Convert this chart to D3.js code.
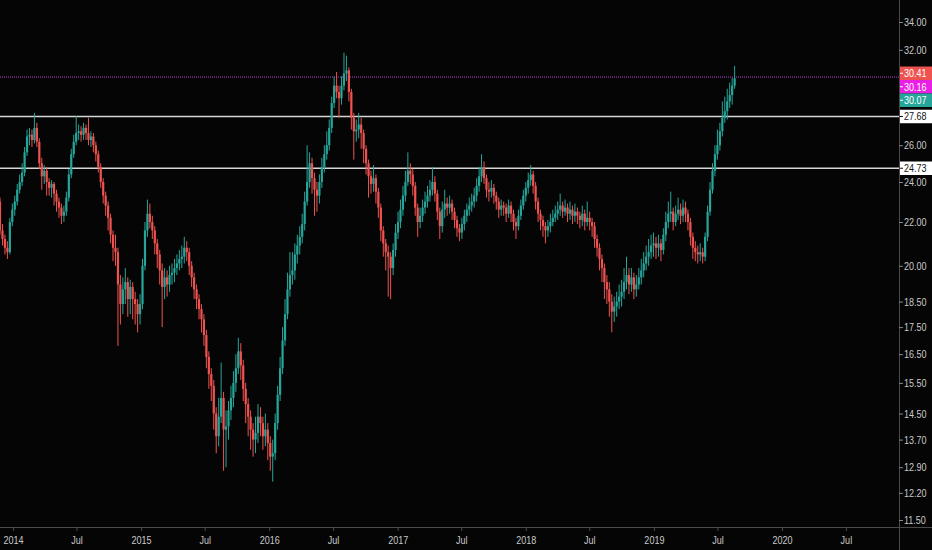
<!DOCTYPE html>
<html>
<head>
<meta charset="utf-8">
<script src="https://cdn.jsdelivr.net/npm/d3@7"></script>
<style>
html, body { margin: 0; padding: 0; background: #050505; overflow: hidden; }
text { font-family: "Liberation Sans", "DejaVu Sans", sans-serif; font-size: 11px; }
</style>
</head>
<body>
<div id="chart"></div>
<script>
// weekly candles, first week starts Monday 2013-11-25; open = previous close
const firstWeek = '2013-11-25';
const firstOpen = 23.0;
const closes = [
  21.6, 21.2, 20.8, 20.6, 22.0, 22.6, 23.0, 23.6, 24.0, 24.5,
  25.6, 26.5, 26.6, 26.3, 27.0, 26.2, 25.0, 24.3, 24.6, 24.0,
  23.7, 23.9, 23.4, 23.0, 22.7, 22.3, 22.5, 23.2, 24.4, 25.5,
  26.2, 26.7, 26.8, 26.6, 27.0, 26.7, 26.3, 26.5, 26.0, 25.5,
  24.8, 24.0, 23.3, 22.8, 22.2, 21.4, 20.8, 20.6, 19.2, 18.4,
  19.0, 19.3, 18.6, 19.1, 18.6, 18.4, 18.0, 18.4, 20.0, 21.6,
  22.4, 22.0, 21.6, 21.0, 20.5, 19.8, 19.1, 19.5, 19.2, 19.6,
  19.7, 19.9, 20.1, 20.3, 20.4, 20.8, 20.6, 20.0, 19.5, 19.0,
  18.6, 18.2, 17.8, 17.2, 16.4, 15.8, 15.4, 14.5, 13.8, 14.4,
  15.0, 14.0, 14.1, 14.6, 15.0, 15.5, 16.0, 16.6, 16.1, 15.3,
  14.8, 14.4, 14.0, 13.7, 13.9, 14.4, 14.2, 13.8, 14.0, 13.6,
  13.2, 13.3, 14.2, 15.1, 16.0, 17.0, 18.0, 19.0, 19.6, 19.8,
  20.5, 20.9, 21.3, 21.9, 23.0, 24.0, 25.0, 24.2, 23.6, 23.3,
  24.0, 24.8, 25.5, 26.0, 27.0, 28.5, 29.6, 29.2, 28.8, 29.6,
  30.4, 30.6, 29.2, 27.6, 26.8, 26.9, 27.2, 26.7, 25.8, 25.0,
  24.3, 23.9, 24.2, 23.5, 22.7, 21.6, 21.0, 20.6, 20.4, 19.9,
  20.7, 21.5, 22.0, 22.6, 23.3, 24.0, 24.6, 24.4, 23.8, 22.7,
  22.0, 22.3, 22.7, 23.0, 23.3, 23.6, 24.0, 23.4, 22.5, 21.8,
  22.6, 22.9, 22.7, 22.9, 22.5, 22.1, 21.7, 21.5, 21.9, 22.3,
  22.6, 22.8, 23.0, 23.3, 23.8, 24.3, 24.8, 24.2, 23.6, 23.5,
  23.7, 23.3, 23.0, 22.6, 22.8, 22.7, 22.4, 22.8, 22.4, 22.0,
  21.8, 22.3, 22.8, 23.3, 23.7, 24.1, 24.4, 23.8, 23.0, 22.4,
  22.1, 21.8, 21.6, 21.8, 22.0, 22.2, 22.4, 22.6, 22.8, 22.5,
  22.7, 22.4, 22.6, 22.3, 22.5, 22.3, 22.1, 22.4, 22.0, 22.2,
  22.0, 21.8, 21.2, 20.8, 20.3, 19.9, 19.3, 19.0, 18.5, 18.1,
  18.3, 18.5, 18.7, 18.9, 19.3, 19.6, 19.2, 19.5, 19.0, 19.2,
  19.5, 19.8, 20.1, 20.4, 20.6, 20.9, 21.0, 20.8, 21.0, 20.7,
  21.4, 22.0, 22.4, 22.5, 22.0, 22.4, 22.6, 22.3, 22.7, 22.4,
  22.0, 21.3, 20.8, 20.6, 20.5, 20.6, 20.4, 21.3, 22.5, 23.6,
  24.6, 25.5, 26.0, 26.8, 27.6, 28.0, 28.6, 29.0, 29.6, 30.07
];
const highs = [
  23.2, 21.9, 21.4, 21.1, 22.2, 22.9, 23.3, 23.9, 24.4, 25.0,
  25.9, 26.9, 27.0, 26.9, 27.9, 27.3, 26.4, 25.3, 24.9, 24.8,
  24.2, 24.1, 24.0, 23.6, 23.2, 22.9, 22.8, 23.5, 24.7, 25.8,
  26.6, 27.7, 27.2, 27.1, 27.3, 27.2, 27.6, 26.8, 26.7, 26.2,
  25.7, 25.0, 24.2, 23.5, 23.0, 22.4, 21.6, 21.4, 20.8, 19.6,
  19.5, 19.9, 19.5, 19.4, 19.3, 18.9, 18.6, 18.8, 20.3, 22.0,
  23.1, 22.9, 22.3, 21.8, 21.2, 20.7, 20.1, 19.9, 19.8, 20.0,
  20.1, 20.3, 20.5, 20.7, 20.9, 21.3, 21.1, 20.8, 20.2, 19.7,
  19.2, 18.8, 18.4, 18.0, 17.4, 16.6, 16.0, 15.6, 14.7, 15.0,
  16.2, 15.2, 14.6, 14.9, 15.4, 15.9, 16.5, 17.1, 16.9, 16.3,
  15.5, 15.0, 14.6, 14.2, 14.4, 14.8, 14.7, 14.4, 14.5, 14.2,
  13.8, 13.7, 14.5, 15.4, 16.4, 17.5, 18.6, 19.7, 20.6, 20.6,
  21.0, 21.4, 21.8, 22.4, 23.5, 26.0, 25.6, 25.3, 24.5, 24.0,
  24.4, 25.3, 26.0, 26.8, 27.5, 28.9, 30.2, 30.5, 29.6, 30.2,
  31.8, 31.6, 30.8, 29.4, 27.9, 27.5, 27.9, 27.6, 26.9, 26.0,
  25.2, 24.6, 24.9, 24.4, 23.7, 22.9, 21.8, 21.2, 20.9, 20.6,
  21.0, 21.9, 22.5, 23.1, 23.8, 24.6, 25.6, 25.0, 24.7, 24.0,
  22.9, 22.7, 23.1, 23.5, 23.8, 24.1, 24.8, 24.3, 23.6, 22.7,
  23.0, 23.6, 23.2, 23.3, 23.1, 22.7, 22.3, 21.9, 22.2, 22.6,
  22.9, 23.2, 23.4, 23.7, 24.2, 24.8, 25.5, 25.1, 24.4, 24.0,
  24.1, 23.9, 23.5, 23.2, 23.1, 23.0, 22.9, 23.1, 23.0, 22.6,
  22.2, 22.6, 23.1, 23.6, 24.0, 24.5, 24.9, 24.6, 24.0, 23.2,
  22.6, 22.3, 22.0, 22.1, 22.4, 22.6, 22.8, 23.0, 23.4, 23.0,
  23.1, 22.9, 23.0, 22.8, 22.9, 22.7, 22.5, 22.8, 22.6, 23.0,
  22.5, 22.2, 22.0, 21.4, 21.0, 20.5, 20.1, 19.6, 19.3, 18.8,
  18.7, 18.9, 19.2, 19.4, 19.9, 20.4, 19.9, 19.9, 19.7, 19.6,
  19.9, 20.3, 20.6, 20.9, 21.2, 21.4, 21.5, 21.3, 21.4, 21.2,
  21.7, 22.5, 23.0, 23.5, 22.7, 22.8, 23.2, 22.9, 23.1, 23.0,
  22.6, 22.2, 21.5, 21.1, 20.9, 21.0, 20.8, 21.5, 22.8, 24.0,
  25.0, 26.0, 26.9, 27.3, 28.6, 28.9, 29.4, 29.8, 30.1, 30.9
];
const lows = [
  21.4, 20.9, 20.5, 20.3, 20.5, 21.8, 22.3, 22.8, 23.4, 23.8,
  24.3, 25.4, 26.0, 25.9, 26.1, 25.9, 24.7, 23.6, 23.9, 23.3,
  23.3, 23.2, 22.8, 22.5, 22.2, 21.9, 22.0, 22.3, 23.0, 24.2,
  25.3, 26.0, 26.3, 26.2, 26.3, 26.3, 26.0, 25.9, 25.6, 25.1,
  24.5, 23.7, 22.9, 22.3, 21.6, 21.0, 20.2, 20.0, 16.8, 17.6,
  18.0, 18.4, 17.9, 18.0, 17.8, 17.6, 17.3, 17.6, 18.2, 19.8,
  21.3, 21.7, 21.2, 20.5, 19.9, 19.2, 17.5, 18.6, 18.7, 18.9,
  19.2, 19.3, 19.6, 19.8, 19.9, 20.1, 20.2, 19.6, 19.1, 18.6,
  18.2, 17.8, 17.3, 16.8, 16.0, 15.3, 14.9, 14.0, 13.3, 13.5,
  14.2, 12.8, 12.9, 13.7, 14.3, 14.7, 15.2, 15.8, 15.6, 14.9,
  14.2, 13.8, 13.4, 13.2, 13.3, 13.6, 13.8, 13.4, 13.5, 13.1,
  12.8, 12.5, 13.1, 14.0, 14.9, 15.8, 16.8, 17.8, 18.7, 19.2,
  19.4, 20.1, 20.5, 21.0, 21.6, 22.8, 23.7, 23.4, 22.3, 22.5,
  22.9, 23.7, 24.5, 25.2, 25.7, 26.7, 28.2, 28.8, 27.6, 28.4,
  29.3, 29.9, 28.6, 26.9, 25.2, 26.2, 26.4, 25.8, 25.0, 24.4,
  23.2, 23.4, 23.5, 22.9, 22.2, 21.1, 20.4, 19.8, 18.7, 18.6,
  19.6, 20.4, 21.2, 21.7, 22.3, 23.0, 23.8, 23.9, 23.3, 22.3,
  21.3, 21.7, 22.0, 22.4, 22.7, 23.0, 23.3, 23.0, 22.1, 21.2,
  21.5, 22.2, 22.3, 22.4, 22.1, 21.7, 21.3, 21.1, 21.2, 21.6,
  22.0, 22.3, 22.5, 22.7, 23.0, 23.5, 24.0, 23.9, 23.2, 23.0,
  23.2, 22.9, 22.6, 22.2, 22.3, 22.3, 22.0, 22.2, 22.0, 21.6,
  21.2, 21.6, 22.1, 22.6, 23.0, 23.4, 23.8, 23.4, 22.6, 22.0,
  21.6, 21.3, 21.0, 21.3, 21.5, 21.8, 22.0, 22.1, 22.3, 22.2,
  22.3, 22.0, 22.1, 21.9, 22.0, 21.9, 21.7, 21.8, 21.6, 21.8,
  21.6, 21.3, 20.8, 20.4, 19.8, 19.3, 18.6, 18.4, 17.9, 17.3,
  17.7, 17.9, 18.2, 18.3, 18.6, 19.0, 18.8, 18.9, 18.6, 18.7,
  19.0, 19.2, 19.5, 19.8, 20.0, 20.3, 20.4, 20.3, 20.4, 20.2,
  20.5, 21.1, 21.7, 22.0, 21.6, 21.8, 22.1, 21.9, 22.0, 22.0,
  21.6, 20.9, 20.3, 20.2, 20.1, 20.2, 20.1, 20.2, 21.1, 22.3,
  23.4, 24.3, 25.2, 25.7, 26.5, 27.3, 27.5, 28.2, 28.4, 29.4
];

const priceTicks = [11.5, 12.2, 12.9, 13.7, 14.5, 15.5, 16.5, 17.5, 18.5, 20, 22, 24, 26, 32, 34];
const levelLines = [27.68, 24.73];
const dottedLevel = 30.16;
const priceTags = [30.41, 30.16, 30.07, 27.68, 24.73];

const W = 932, H = 550;
const plotRight = 899, plotBottom = 527;
const upColor = '#26a69a', downColor = '#ef5350';
const tagFill = ['#ef5350', '#e91fe6', '#26a69a', '#ffffff', '#ffffff'];
const tagText = ['#ffffff', '#ffffff', '#ffffff', '#131313', '#131313'];
const narrow = 'scale(0.82,1)'; // the axis font is a condensed one

const start = d3.utcParse('%Y-%m-%d')(firstWeek);
const candles = closes.map((c, i) => ({
  date: d3.utcWeek.offset(start, i),
  open: i === 0 ? firstOpen : closes[i - 1],
  close: c,
  high: highs[i],
  low: lows[i]
}));

const svg = d3.select('#chart').append('svg')
  .attr('width', W).attr('height', H)
  .style('display', 'block');

svg.append('rect').attr('width', W).attr('height', H).attr('fill', '#050505');

// time scale: 2014-01-01 .. 2020-01-01 spans 13..782 px, extended to the plot edges
const xBase = d3.scaleUtc()
  .domain([new Date(Date.UTC(2014, 0, 1)), new Date(Date.UTC(2020, 0, 1))])
  .range([13, 782]);
const x = d3.scaleUtc()
  .domain([xBase.invert(0), xBase.invert(plotRight)])
  .range([0, plotRight]);

const y = d3.scaleLog().domain([11.5, 34]).range([520, 22]);

const plot = svg.append('g');
plot.append('clipPath').attr('id', 'clip')
  .append('rect').attr('width', plotRight).attr('height', plotBottom);
const marks = plot.append('g').attr('clip-path', 'url(#clip)');

// horizontal levels
marks.selectAll('line.level')
  .data(levelLines)
  .enter().append('line')
  .attr('class', 'level')
  .attr('x1', 0).attr('x2', plotRight)
  .attr('y1', d => y(d)).attr('y2', d => y(d))
  .attr('stroke', '#d6d6d6').attr('stroke-width', 1.5);

marks.append('line')
  .attr('x1', 0).attr('x2', plotRight)
  .attr('y1', y(dottedLevel)).attr('y2', y(dottedLevel))
  .attr('stroke', '#b53bd8').attr('stroke-width', 1)
  .attr('stroke-dasharray', '1,1');

// candles
const bodyW = 2.2;
const color = d => d.close >= d.open ? upColor : downColor;

marks.selectAll('line.wick')
  .data(candles)
  .enter().append('line')
  .attr('class', 'wick')
  .attr('x1', d => x(d.date)).attr('x2', d => x(d.date))
  .attr('y1', d => y(d.high)).attr('y2', d => y(d.low))
  .attr('stroke', color).attr('stroke-width', 1);

marks.selectAll('rect.body')
  .data(candles)
  .enter().append('rect')
  .attr('class', 'body')
  .attr('x', d => x(d.date) - bodyW / 2)
  .attr('width', bodyW)
  .attr('y', d => y(Math.max(d.open, d.close)))
  .attr('height', d => Math.max(1, Math.abs(y(d.open) - y(d.close))))
  .attr('fill', color);

// axes
const xAxis = svg.append('g')
  .attr('transform', `translate(0,${plotBottom})`)
  .call(d3.axisBottom(x)
    .ticks(d3.utcMonth.every(6))
    .tickSize(4)
    .tickPadding(5)
    .tickFormat(d => d.getUTCMonth() === 0 ? d3.utcFormat('%Y')(d) : 'Jul'));
xAxis.select('.domain').attr('stroke', '#4a4a4a').attr('d', `M0,0.5H${W}`);
xAxis.selectAll('.tick line').attr('stroke', '#4a4a4a');
xAxis.selectAll('.tick text').attr('fill', '#c9c9c9').attr('transform', narrow);

const yAxis = svg.append('g')
  .attr('transform', `translate(${plotRight},0)`)
  .call(d3.axisRight(y)
    .tickValues(priceTicks)
    .tickSize(4)
    .tickPadding(5)
    .tickFormat(d3.format('.2f')));
yAxis.select('.domain').attr('stroke', '#4a4a4a').attr('d', `M0.5,0V${H}`);
yAxis.selectAll('.tick line').attr('stroke', '#8a8a8a');
yAxis.selectAll('.tick text').attr('fill', '#c9c9c9')
  .attr('x', 0).attr('transform', `translate(5,0) ${narrow}`);

// price tags on the right axis, stacked so they do not overlap
let lastY = -Infinity;
const tagH = 13.5;
priceTags.forEach((v, i) => {
  let cy = y(v);
  if (cy < lastY + tagH) cy = lastY + tagH;
  lastY = cy;
  const g = svg.append('g').attr('transform', `translate(${plotRight + 1},${cy})`);
  g.append('rect')
    .attr('x', 0).attr('y', -tagH / 2)
    .attr('width', W - plotRight).attr('height', tagH)
    .attr('fill', tagFill[i]);
  g.append('line')
    .attr('x1', 0).attr('x2', 3).attr('y1', 0).attr('y2', 0)
    .attr('stroke', tagText[i]).attr('stroke-width', 1);
  g.append('text')
    .attr('dy', '0.35em')
    .attr('fill', tagText[i])
    .attr('transform', `translate(4,0) ${narrow}`)
    .text(d3.format('.2f')(v));
});
</script>
</body>
</html>
